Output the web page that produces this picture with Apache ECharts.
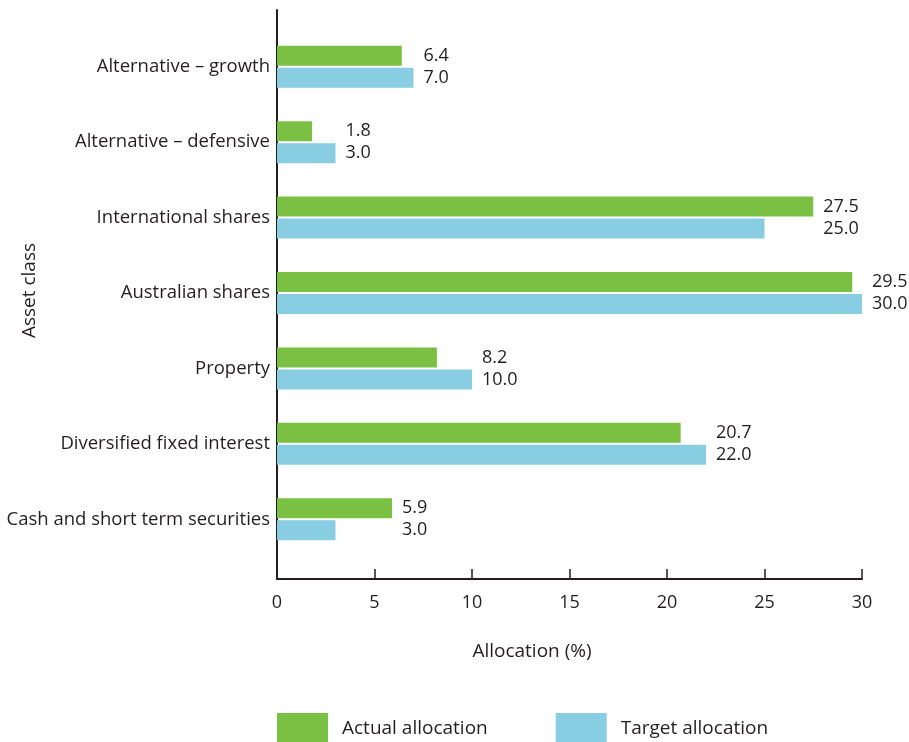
<!DOCTYPE html>
<html>
<head>
<meta charset="utf-8">
<script src="https://cdn.jsdelivr.net/npm/echarts@6/dist/echarts.min.js"></script>
<style>
  html, body { margin: 0; padding: 0; background: #ffffff; }
  #chart { width: 909px; height: 742px; }
</style>
</head>
<body>
<div id="chart"></div>
<script>
// Asset classes, listed top to bottom
const categories = [
  'Alternative \u2013 growth',
  'Alternative \u2013 defensive',
  'International shares',
  'Australian shares',
  'Property',
  'Diversified fixed interest',
  'Cash and short term securities'
];
const actualAllocation = [6.4, 1.8, 27.5, 29.5, 8.2, 20.7, 5.9];
const targetAllocation = [7.0, 3.0, 25.0, 30.0, 10.0, 22.0, 3.0];
const xTicks = { min: 0, max: 30, interval: 5 };

const FONT = '"Open Sans", "Noto Sans", sans-serif';
const INK = '#231f20';
const GREEN = '#7ac143';
const BLUE = '#88cde1';

// Value labels of a pair sit just past the longer of the two bars.
function withLabels(values, other) {
  return values.map((v, i) => {
    const m = Math.max(v, other[i]);
    return {
      value: v,
      label: { position: [(m / v * 100) + '%', '50%'] }
    };
  });
}

const labelStyle = {
  show: true,
  offset: [10, 0],
  align: 'left',
  verticalAlign: 'middle',
  fontFamily: FONT,
  fontSize: 18,
  color: INK,
  formatter: p => p.value.toFixed(1)
};

const chart = echarts.init(document.getElementById('chart'), null, { renderer: 'canvas' });

chart.setOption({
  animation: false,
  backgroundColor: '#ffffff',
  textStyle: { fontFamily: FONT, color: INK },
  grid: [
    // bars
    { left: 277, right: 47, top: 29, bottom: 742 - 557, outerBoundsMode: 'none', containLabel: false },
    // axis frame
    { left: 277, right: 47, top: 10, bottom: 742 - 579, outerBoundsMode: 'none', containLabel: false }
  ],
  legend: {
    data: ['Actual allocation', 'Target allocation'],
    left: 277,
    top: 713,
    padding: 0,
    icon: 'rect',
    itemWidth: 51,
    itemHeight: 32,
    itemGap: 68,
    textStyle: { fontFamily: FONT, fontSize: 19, color: INK, padding: [0, 0, 0, 9] }
  },
  xAxis: [
    { gridIndex: 0, type: 'value', min: xTicks.min, max: xTicks.max, show: false },
    {
      gridIndex: 1, type: 'value',
      min: xTicks.min, max: xTicks.max, interval: xTicks.interval,
      name: 'Allocation (%)',
      nameLocation: 'middle',
      nameGap: 63,
      nameTextStyle: { fontFamily: FONT, fontSize: 19, color: INK, padding: [0, 75, 0, 0] },
      axisLine: { show: true, lineStyle: { color: INK, width: 2 } },
      axisTick: { show: true, inside: true, length: 10, lineStyle: { color: INK, width: 1.5 } },
      axisLabel: { fontFamily: FONT, fontSize: 18, color: INK, margin: 15 },
      splitLine: { show: false }
    }
  ],
  yAxis: [
    {
      gridIndex: 0, type: 'category', inverse: true,
      data: categories,
      axisLine: { show: false },
      axisTick: { show: false },
      axisLabel: { fontFamily: FONT, fontSize: 18.5, color: INK, margin: 7 }
    },
    {
      gridIndex: 1, type: 'value', min: 0, max: 1,
      name: 'Asset class',
      nameLocation: 'middle',
      nameGap: 238,
      nameTextStyle: { fontFamily: FONT, fontSize: 19, color: INK, padding: [0, 0, 0, 8] },
      axisLine: { show: true, lineStyle: { color: INK, width: 2 } },
      axisTick: { show: false },
      axisLabel: { show: false },
      splitLine: { show: false }
    }
  ],
  series: [
    {
      name: 'Actual allocation',
      type: 'bar',
      xAxisIndex: 0, yAxisIndex: 0,
      barWidth: 20,
      barGap: '10%',
      itemStyle: { color: GREEN },
      label: labelStyle,
      data: withLabels(actualAllocation, targetAllocation)
    },
    {
      name: 'Target allocation',
      type: 'bar',
      xAxisIndex: 0, yAxisIndex: 0,
      barWidth: 20,
      barGap: '10%',
      itemStyle: { color: BLUE },
      label: labelStyle,
      data: withLabels(targetAllocation, actualAllocation)
    }
  ]
});
</script>
</body>
</html>
